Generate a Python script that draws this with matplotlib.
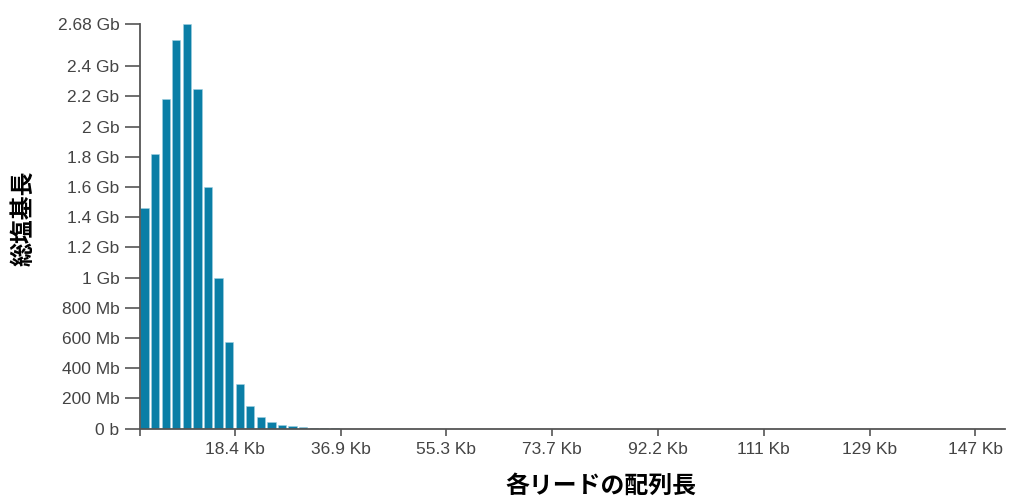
import numpy as np
import matplotlib.pyplot as plt
from matplotlib.ticker import FixedLocator, FixedFormatter

# histogram of read lengths, bin width = 1.843 Kb, starting at 1.843 Kb
bin_width = 1843
bin_start = 1843
total_bases = [1.459e9, 1.822e9, 2.185e9, 2.576e9, 2.68e9, 2.251e9, 1.601e9,
               1.0e9, 0.572e9, 0.297e9, 0.147e9, 0.077e9, 0.040e9, 0.026e9,
               0.016e9, 0.011e9, 0.004e9, 0.002e9, 0.001e9]

x_ticks = [18430, 36860, 55290, 73720, 92150, 110580, 129010, 147440]
x_labels = ["18.4 Kb", "36.9 Kb", "55.3 Kb", "73.7 Kb", "92.2 Kb", "111 Kb", "129 Kb", "147 Kb"]
y_ticks = [0, 0.2e9, 0.4e9, 0.6e9, 0.8e9, 1.0e9, 1.2e9, 1.4e9, 1.6e9, 1.8e9, 2.0e9, 2.2e9, 2.4e9, 2.68e9]
y_labels = ["0 b", "200 Mb", "400 Mb", "600 Mb", "800 Mb", "1 Gb", "1.2 Gb", "1.4 Gb",
            "1.6 Gb", "1.8 Gb", "2 Gb", "2.2 Gb", "2.4 Gb", "2.68 Gb"]

W, H = 1009, 498
fig = plt.figure(figsize=(W/100, H/100), dpi=100)
ax = fig.add_axes([139.5/W, (H-428.5)/H, (1005-139.5)/W, (428.5-24)/H])

lefts = bin_start + bin_width*np.arange(len(total_bases))
ax.bar(lefts + 0.08*bin_width, total_bases, width=0.78*bin_width, align="edge",
       color="#0a7ea6", edgecolor="#9fd0e2", linewidth=0.4)

ax.set_xlim(bin_start, 152600)
ax.set_ylim(0, 2.68e9)

ax.xaxis.set_major_locator(FixedLocator([bin_start] + x_ticks))
ax.xaxis.set_major_formatter(FixedFormatter([""] + x_labels))
ax.yaxis.set_major_locator(FixedLocator(y_ticks))
ax.yaxis.set_major_formatter(FixedFormatter(y_labels))

for s in ["top", "right"]:
    ax.spines[s].set_visible(False)
for s in ["left", "bottom"]:
    ax.spines[s].set_color("#555555")
    ax.spines[s].set_linewidth(1.3)

ax.tick_params(axis="both", width=1.2, color="#555555",
               labelcolor="#444444", labelsize=12.5)
ax.tick_params(axis="x", length=5, pad=4.5)
ax.tick_params(axis="y", length=11, pad=3.5)
for lbl in ax.get_xticklabels() + ax.get_yticklabels():
    lbl.set_family(["Liberation Sans", "DejaVu Sans"])

fig.text(601/W, 1 - 486/H, "各リードの配列長", ha="center", va="center",
         fontsize=17.2, fontweight="bold", family=["Noto Sans CJK JP", "DejaVu Sans"])
fig.text(23/W, 1 - 218/H, "総塩基長", ha="center", va="center", rotation=90,
         fontsize=17.2, fontweight="bold", family=["Noto Sans CJK JP", "DejaVu Sans"])

fig.savefig("out.png", dpi=100)
